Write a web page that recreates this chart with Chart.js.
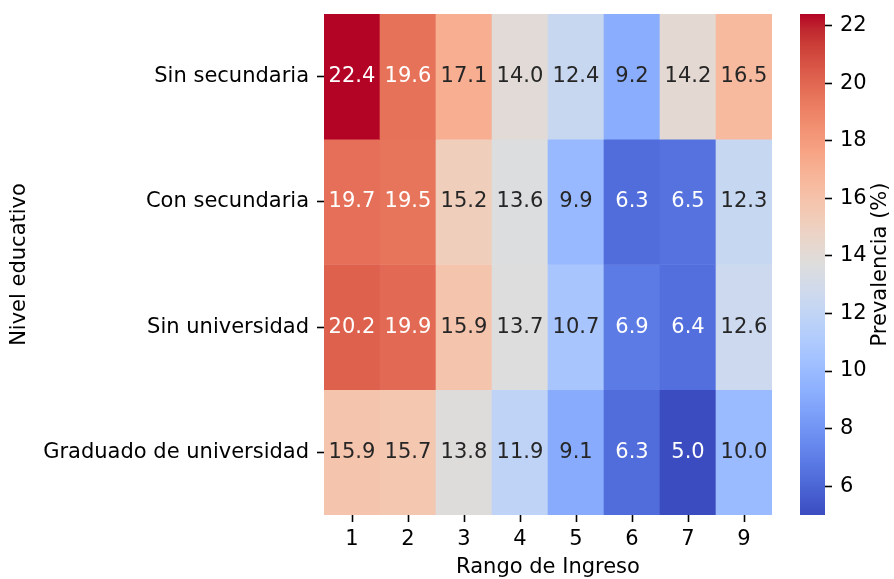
<!DOCTYPE html>
<html>
<head>
<meta charset="utf-8">
<script src="https://cdn.jsdelivr.net/npm/chart.js@4.4.1/dist/chart.umd.min.js"></script>
<style>
  html, body { margin: 0; padding: 0; background: #ffffff; }
  #wrap { position: relative; width: 894px; height: 579px; overflow: hidden; }
  #heat { position: absolute; left: 0; top: 0; }
  #cbar { position: absolute; left: 790px; top: 0; }
</style>
</head>
<body>
<div id="wrap">
  <canvas id="heat" width="894" height="579"></canvas>
  <canvas id="cbar" width="104" height="579"></canvas>
</div>
<script>
// Income brackets (columns) and education levels (rows)
const incomeRanges = ['1', '2', '3', '4', '5', '6', '7', '9'];
const educationLevels = ['Sin secundaria', 'Con secundaria', 'Sin universidad', 'Graduado de universidad'];

// Prevalence (%) per education level, one value per income bracket
const sinSecundaria       = [22.4, 19.6, 17.1, 14.0, 12.4, 9.2, 14.2, 16.5];
const conSecundaria       = [19.7, 19.5, 15.2, 13.6,  9.9, 6.3,  6.5, 12.3];
const sinUniversidad      = [20.2, 19.9, 15.9, 13.7, 10.7, 6.9,  6.4, 12.6];
const graduadoUniversidad = [15.9, 15.7, 13.8, 11.9,  9.1, 6.3,  5.0, 10.0];

// Colour bar tick labels
const colorbarTicks = [6, 8, 10, 12, 14, 16, 18, 20, 22];

const rows = [sinSecundaria, conSecundaria, sinUniversidad, graduadoUniversidad];
const allValues = rows.flat();
const vmin = Math.min(...allValues);
const vmax = Math.max(...allValues);

// Diverging "coolwarm" colour map (Moreland), 33 evenly spaced stops
const COOLWARM = [
  [59,76,192],[68,90,204],[77,104,215],[87,117,225],[98,130,234],[108,142,241],
  [119,154,247],[130,165,251],[141,176,254],[152,185,255],[163,194,255],[174,201,253],
  [184,208,249],[194,213,244],[204,217,238],[213,219,230],[221,221,221],[229,216,209],
  [236,211,197],[241,204,185],[245,196,173],[247,187,160],[247,177,148],[247,166,135],
  [244,154,123],[241,141,111],[236,127,99],[229,112,88],[222,96,77],[213,80,66],
  [203,62,56],[192,40,47],[180,4,38]
];

function coolwarmRGB(t) {
  t = Math.max(0, Math.min(1, t));
  const pos = t * (COOLWARM.length - 1);
  const i = Math.min(Math.floor(pos), COOLWARM.length - 2);
  const f = pos - i;
  const a = COOLWARM[i], b = COOLWARM[i + 1];
  return [0, 1, 2].map(k => Math.round(a[k] + (b[k] - a[k]) * f));
}
function rgbStr(c) { return `rgb(${c[0]},${c[1]},${c[2]})`; }
function colorFor(v) { return coolwarmRGB((v - vmin) / (vmax - vmin)); }

function luminance(c) {
  const lin = c.map(x => {
    x /= 255;
    return x <= 0.03928 ? x / 12.92 : Math.pow((x + 0.055) / 1.055, 2.4);
  });
  return 0.2126 * lin[0] + 0.7152 * lin[1] + 0.0722 * lin[2];
}

const FONT = 'DejaVu Sans';
const FS = 21;
Chart.defaults.font.family = FONT;
Chart.defaults.font.size = FS;
Chart.defaults.color = '#000000';

// Writes each cell's value in its centre, dark or light depending on the fill
const cellLabels = {
  id: 'cellLabels',
  afterDatasetsDraw(chart) {
    const ctx = chart.ctx;
    ctx.save();
    ctx.font = `${FS}px "${FONT}"`;
    ctx.textAlign = 'center';
    ctx.textBaseline = 'middle';
    chart.data.datasets.forEach((ds, di) => {
      const meta = chart.getDatasetMeta(di);
      meta.data.forEach((bar, j) => {
        const p = bar.getProps(['x', 'y', 'base'], true);
        const v = ds.values[j];
        ctx.fillStyle = luminance(colorFor(v)) > 0.408 ? '#262626' : '#ffffff';
        ctx.fillText(v.toFixed(1), p.x, (p.y + p.base) / 2);
      });
    });
    ctx.restore();
  }
};

const heatDatasets = rows.map((vals, r) => ({
  label: educationLevels[r],
  values: vals,
  data: vals.map(() => [r, r + 1]),
  backgroundColor: vals.map(v => rgbStr(colorFor(v))),
  borderWidth: 0,
  borderSkipped: false,
  grouped: false,
  barPercentage: 1,
  categoryPercentage: 1
}));

new Chart(document.getElementById('heat'), {
  type: 'bar',
  data: { labels: incomeRanges, datasets: heatDatasets },
  options: {
    responsive: false,
    animation: false,
    devicePixelRatio: 1,
    layout: { padding: { left: 0, top: 14, right: 122, bottom: 0 } },
    plugins: { legend: { display: false }, tooltip: { enabled: false } },
    scales: {
      x: {
        type: 'category',
        offset: true,
        grid: { offset: false, drawOnChartArea: false, drawTicks: true, tickLength: 7, tickWidth: 1.6, tickColor: '#000000' },
        border: { display: false },
        ticks: { padding: 5, color: '#000000', font: { size: FS } },
        title: { display: true, text: 'Rango de Ingreso', color: '#000000', font: { size: FS, lineHeight: 1.1 }, padding: { top: 0, bottom: 0 } },
        afterFit(scale) { scale.height = 64; scale.paddingLeft = 0; scale.paddingRight = 0; }
      },
      y: {
        type: 'linear',
        min: 0,
        max: 4,
        reverse: true,
        grid: { drawOnChartArea: false, drawTicks: true, tickLength: 7, tickWidth: 1.6, tickColor: '#000000' },
        border: { display: false },
        afterBuildTicks(scale) { scale.ticks = educationLevels.map((_, i) => ({ value: i + 0.5 })); },
        ticks: { padding: 8, color: '#000000', font: { size: FS }, callback: (v, i) => educationLevels[i] },
        title: { display: true, text: 'Nivel educativo', color: '#000000', font: { size: FS }, padding: { top: 7, bottom: 0 } },
        afterFit(scale) { scale.width = 324; scale.paddingTop = 0; scale.paddingBottom = 0; }
      }
    }
  },
  plugins: [cellLabels]
});

// Colour bar: one bar spanning the value range, filled with the colour map
function colorbarFill(context) {
  const chart = context.chart;
  const area = chart.chartArea;
  if (!area) return 'rgba(0,0,0,0)';
  const ys = chart.scales.y;
  const g = chart.ctx.createLinearGradient(0, ys.getPixelForValue(vmin), 0, ys.getPixelForValue(vmax));
  COOLWARM.forEach((c, i) => g.addColorStop(i / (COOLWARM.length - 1), rgbStr(c)));
  return g;
}

// Rotated label for the colour bar
const colorbarTitle = {
  id: 'colorbarTitle',
  afterDraw(chart) {
    const ctx = chart.ctx;
    const area = chart.chartArea;
    ctx.save();
    ctx.font = `${FS}px "${FONT}"`;
    ctx.fillStyle = '#000000';
    ctx.textAlign = 'center';
    ctx.textBaseline = 'middle';
    ctx.translate(chart.width - 13, (area.top + area.bottom) / 2);
    ctx.rotate(-Math.PI / 2);
    ctx.fillText('Prevalencia (%)', 0, 0);
    ctx.restore();
  }
};

new Chart(document.getElementById('cbar'), {
  type: 'bar',
  data: {
    labels: [''],
    datasets: [{
      data: [[vmin, vmax]],
      backgroundColor: colorbarFill,
      borderWidth: 0,
      borderSkipped: false,
      barPercentage: 1,
      categoryPercentage: 1
    }]
  },
  options: {
    responsive: false,
    animation: false,
    devicePixelRatio: 1,
    layout: { padding: { left: 10, top: 14, right: 0, bottom: 64 } },
    plugins: { legend: { display: false }, tooltip: { enabled: false } },
    scales: {
      x: { display: false },
      y: {
        position: 'right',
        min: vmin,
        max: vmax,
        grid: { drawOnChartArea: false, drawTicks: true, tickLength: 7, tickWidth: 1.6, tickColor: '#000000' },
        border: { display: false },
        afterBuildTicks(scale) { scale.ticks = colorbarTicks.map(v => ({ value: v })); },
        ticks: { padding: 8, color: '#000000', font: { size: FS } },
        afterFit(scale) { scale.width = 69; scale.paddingTop = 0; scale.paddingBottom = 0; }
      }
    }
  },
  plugins: [colorbarTitle]
});
</script>
</body>
</html>
